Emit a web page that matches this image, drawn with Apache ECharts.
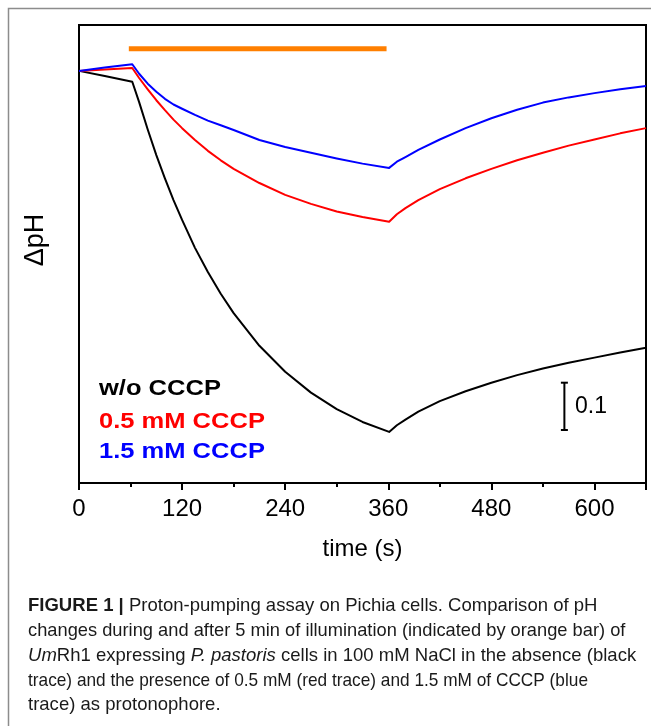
<!DOCTYPE html>
<html><head><meta charset="utf-8">
<script src="https://cdn.jsdelivr.net/npm/echarts@6/dist/echarts.min.js"></script>
<style>html,body{margin:0;padding:0;background:#fff}#c{width:651px;height:726px}</style>
</head><body><div id="c"></div>
<script>
// time (s)
const times  = [0, 30, 62, 70, 80, 90, 100, 110, 120, 135, 150, 165, 180, 210, 240, 270, 300, 330, 361, 370, 380, 395, 420, 450, 480, 510, 540, 570, 600, 630, 660];
// ΔpH traces
const noCCCP = [0, -0.011, -0.023, -0.066, -0.124, -0.178, -0.227, -0.273, -0.315, -0.374, -0.425, -0.471, -0.512, -0.581, -0.636, -0.680, -0.715, -0.742, -0.763, -0.749, -0.737, -0.720, -0.698, -0.677, -0.659, -0.643, -0.629, -0.617, -0.606, -0.595, -0.585];
const cccp05 = [0, 0.003, 0.006, -0.015, -0.039, -0.062, -0.083, -0.103, -0.121, -0.146, -0.169, -0.189, -0.207, -0.237, -0.262, -0.281, -0.297, -0.309, -0.319, -0.303, -0.290, -0.273, -0.250, -0.227, -0.207, -0.189, -0.173, -0.158, -0.145, -0.132, -0.121];
const cccp15 = [0, 0.007, 0.014, -0.006, -0.027, -0.044, -0.059, -0.071, -0.080, -0.093, -0.105, -0.115, -0.125, -0.146, -0.161, -0.173, -0.185, -0.196, -0.205, -0.192, -0.182, -0.167, -0.145, -0.121, -0.100, -0.082, -0.067, -0.056, -0.047, -0.039, -0.032];
// illumination period (orange bar)
const illumination = [58, 358];
const barLevel = 0.047;
// scale bar (0.1 ΔpH)
const scaleBarX = 565;
const scaleBar = [-0.659, -0.759];
const xTicks = [0, 120, 240, 360, 480, 600];
const legendLabels = ['w/o CCCP', '0.5 mM CCCP', '1.5 mM CCCP'];
const colors = ['#000000', '#ff0000', '#0000ff'];
const captionLines = [
  [['b','FIGURE 1 |'],['n',' Proton-pumping assay on Pichia cells. Comparison of pH']],
  [['n','changes during and after 5 min of illumination (indicated by orange bar) of']],
  [['i','Um'],['n','Rh1 expressing '],['i','P. pastoris'],['n',' cells in 100 mM NaCl in the absence (black']],
  [['n','trace) and the presence of 0.5 mM (red trace) and 1.5 mM of CCCP (blue']],
  [['n','trace) as protonophore.']]
];

const zip = (a) => times.map((t, i) => [t, a[i]]);
const chart = echarts.init(document.getElementById('c'), null, {renderer: 'canvas'});
const F = 'Liberation Sans, Arial, sans-serif';

const graphics = [
  {type: 'polyline', shape: {points: [[8.5, 726], [8.5, 8.5], [651, 8.5]]}, style: {stroke: '#8c8c8c', lineWidth: 1.5, fill: null}, silent: true},
  {type: 'text', x: 36, y: 240, rotation: Math.PI / 2,
    style: {text: 'ΔpH', fill: '#000', font: '27px ' + F, textAlign: 'center', textVerticalAlign: 'middle'}}
];
legendLabels.forEach((s, i) => {
  graphics.push({type: 'text', x: 99, y: [389, 422, 452][i], scaleX: 1.16,
    style: {text: s, fill: colors[i], font: 'bold 22px ' + F, textVerticalAlign: 'middle'}});
});
graphics.push({type: 'text', x: 575, y: 407, style: {text: '0.1', fill: '#000', font: '23px ' + F, textVerticalAlign: 'middle'}});
const capScale = [0.975, 0.962, 0.975, 0.908, 0.975];
captionLines.forEach((line, i) => {
  const rich = {b: {fontWeight: 'bold', fontSize: 19, fontFamily: F, fill: '#1a1a1a'}, n: {fontSize: 19, fontFamily: F, fill: '#1a1a1a'}, i: {fontStyle: 'italic', fontSize: 19, fontFamily: F, fill: '#1a1a1a'}};
  const txt = line.map(([k, s]) => '{' + k + '|' + s + '}').join('');
  graphics.push({type: 'text', x: 28, y: 606 + i * 24.8, scaleX: capScale[i],
    style: {text: txt, rich: rich, textVerticalAlign: 'middle', fill: '#1a1a1a'}});
});

const lineSeries = (name, data, color) => ({type: 'line', name, data: zip(data), smooth: false,
  showSymbol: false, lineStyle: {color, width: 2, join: 'round'}});

chart.setOption({
  animation: false,
  grid: {left: 79, right: 5, top: 25, bottom: 243, show: true, borderColor: '#000', borderWidth: 2, containLabel: false},
  xAxis: {
    type: 'value', min: 0, max: 660, interval: 120,
    name: 'time (s)', nameLocation: 'middle', nameGap: 54,
    nameTextStyle: {fontSize: 24, fontFamily: F, color: '#000'},
    axisLine: {onZero: false, lineStyle: {color: '#000', width: 2}},
    axisTick: {show: true, inside: false, length: 7, lineStyle: {color: '#000', width: 2}},
    minorTick: {show: true, splitNumber: 2, length: 4, lineStyle: {color: '#000', width: 2}},
    axisLabel: {fontSize: 24, fontFamily: F, color: '#000', margin: 14, showMaxLabel: false,
      formatter: v => xTicks.includes(v) ? String(v) : ''},
    splitLine: {show: false}
  },
  yAxis: {
    type: 'value', min: -0.871, max: 0.097,
    axisLine: {show: true, onZero: false, lineStyle: {color: '#000', width: 2}},
    axisTick: {show: false}, axisLabel: {show: false}, splitLine: {show: false}
  },
  graphic: graphics,
  series: [
    {type: 'line', data: [[illumination[0], barLevel], [illumination[1], barLevel]], showSymbol: false, lineStyle: {color: '#ff7f00', width: 5, cap: 'butt'}, z: 1},
    lineSeries(legendLabels[0], noCCCP, colors[0]),
    lineSeries(legendLabels[1], cccp05, colors[1]),
    lineSeries(legendLabels[2], cccp15, colors[2]),
    {type: 'line', data: [[scaleBarX, scaleBar[0]], [scaleBarX, scaleBar[1]]], symbol: 'rect', symbolSize: [7, 2], showSymbol: true,
      itemStyle: {color: '#000'}, lineStyle: {color: '#000', width: 2}}
  ]
});
</script></body></html>
